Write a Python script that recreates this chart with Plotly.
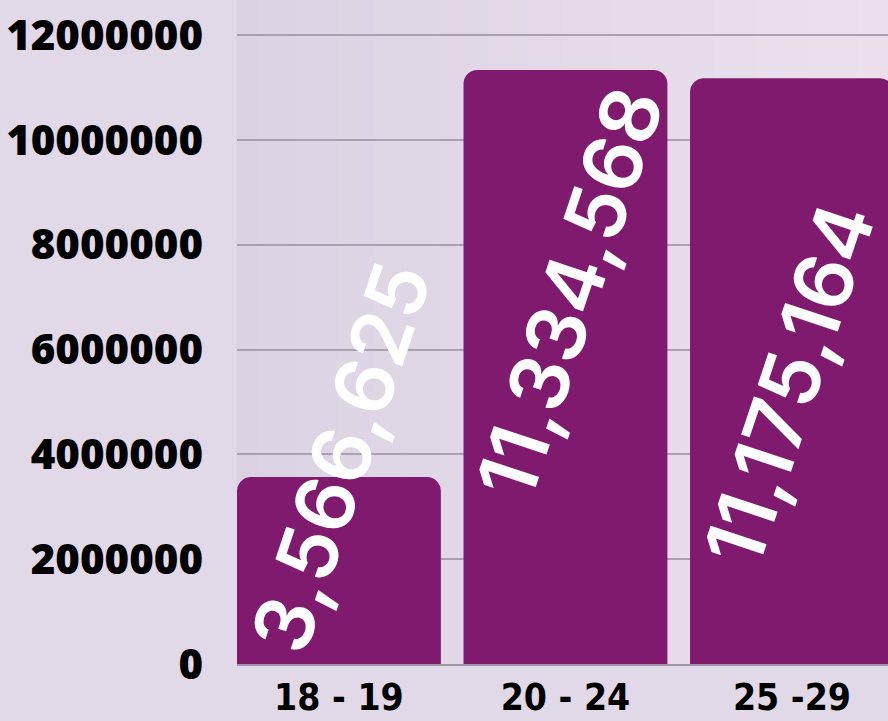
import plotly.graph_objects as go

categories = ["18 - 19", "20 - 24", "25 -29"]
values = [3566625, 11334568, 11175164]
value_labels = ["3,566,625", "11,334,568", "11,175,164"]
tick_vals = [0, 2000000, 4000000, 6000000, 8000000, 10000000, 12000000]
tick_text = ["0", "2000000", "4000000", "6000000", "8000000", "10000000", "12000000"]

# label centre positions (layout, in data units)
label_y = [3950000, 7080000, 5340000]
label_dx = [0.01, 0.02, -0.01]

BAR = "#801a6f"

fig = go.Figure(go.Bar(
    x=list(range(len(categories))), y=values,
    marker=dict(color=BAR, line=dict(width=0)),
    hoverinfo="skip",
))

# background gradient
def lerp(a, b, t):
    return tuple(round(a[i] + (b[i] - a[i]) * t) for i in range(3))

c0 = (0xdb, 0xd3, 0xe4)
c1 = (0xec, 0xe0, 0xec)
N = 90
shapes = []
for i in range(N):
    t = i / (N - 1)
    r, g, b = lerp(c0, c1, t)
    shapes.append(dict(type="rect", xref="paper", yref="paper",
                       x0=i / N - 0.001, x1=(i + 1) / N + 0.001, y0=0, y1=1,
                       fillcolor=f"rgb({r},{g},{b})", line=dict(width=0),
                       layer="below"))

ann = []
for i, lab in enumerate(value_labels):
    ann.append(dict(x=i + label_dx[i], y=label_y[i], xref="x", yref="y",
                    text=lab, showarrow=False, textangle=-71.5,
                    font=dict(family="Inter", size=81, color="white", weight=600)))

fig.update_layout(
    width=888, height=721,
    margin=dict(l=237, r=0, t=0, b=57),
    paper_bgcolor="#e2d9e8", plot_bgcolor="rgba(0,0,0,0)",
    bargap=0.1, barcornerradius=14,
    shapes=shapes, annotations=ann,
    showlegend=False,
    xaxis=dict(range=[-0.45, 2.424], tickvals=list(range(len(categories))),
               ticktext=categories, showgrid=False, zeroline=False,
               showline=True, linecolor="#9e96a6", linewidth=2,
               ticks="", ticklabelstandoff=0, automargin=False,
               tickfont=dict(family="DejaVu Sans Condensed", size=37, color="black", weight="bold")),
    yaxis=dict(range=[0, 12668000], tickvals=tick_vals, ticktext=tick_text,
               showgrid=True, gridcolor="#a9a1b1", gridwidth=1.5, automargin=False,
               zeroline=False, showline=False, ticks="", ticklabelstandoff=33,
               tickfont=dict(family="Open Sans", size=42, color="black", weight=800)),
)

fig.write_html("out.html", config={"displayModeBar": False},
               post_script="document.body.style.margin='0';document.body.style.overflow='hidden';")
